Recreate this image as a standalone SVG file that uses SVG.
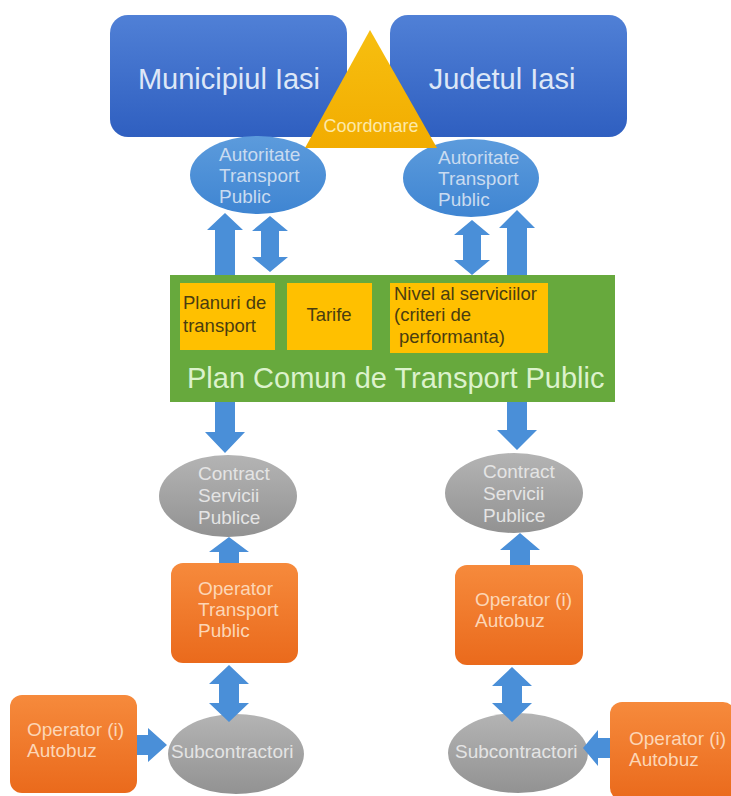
<svg xmlns="http://www.w3.org/2000/svg" width="731" height="796" viewBox="0 0 731 796">
<defs>
<linearGradient id="gBlue" x1="0" y1="0" x2="0" y2="1"><stop offset="0" stop-color="#5080d6"/><stop offset="1" stop-color="#2f5fc0"/></linearGradient>
<linearGradient id="gEll" x1="0" y1="0" x2="0" y2="1"><stop offset="0" stop-color="#5c9bdc"/><stop offset="1" stop-color="#3f85d2"/></linearGradient>
<linearGradient id="gGray" x1="0" y1="0" x2="0" y2="1"><stop offset="0" stop-color="#b4b4b4"/><stop offset="1" stop-color="#929292"/></linearGradient>
<linearGradient id="gOr" x1="0" y1="0" x2="0" y2="1"><stop offset="0" stop-color="#f68a3c"/><stop offset="1" stop-color="#ea6a1c"/></linearGradient>
<linearGradient id="gTri" x1="0" y1="0" x2="0" y2="1"><stop offset="0" stop-color="#f7bf10"/><stop offset="1" stop-color="#f2ac00"/></linearGradient>
</defs>
<style>
text{font-family:"Liberation Sans",Arial,sans-serif}
.big{font-size:29px;fill:#dde7f7}
.ell{font-size:19px;fill:#c9dbf0}
.gry{font-size:19px;fill:#e4e4e4}
.org{font-size:19px;fill:#fcd6b6}
.yel{font-size:18.5px;fill:#4a3d10}
.arr{fill:#4a8fd8}
</style>
<rect width="731" height="796" fill="#ffffff"/>
<g id="municipiul">
<rect x="110" y="15" width="237" height="122" rx="18" fill="url(#gBlue)"/>
<text class="big" x="229" y="89" text-anchor="middle">Municipiul Iasi</text>
</g>
<g id="judetul">
<rect x="390" y="15" width="237" height="122" rx="18" fill="url(#gBlue)"/>
<text class="big" x="502" y="89" text-anchor="middle">Judetul Iasi</text>
</g>
<g id="autoritate-left">
<ellipse cx="258" cy="175" rx="68" ry="39" fill="url(#gEll)"/>
<text class="ell" x="219" y="161">Autoritate</text>
<text class="ell" x="219" y="182">Transport</text>
<text class="ell" x="219" y="203">Public</text>
</g>
<g id="autoritate-right">
<ellipse cx="471" cy="178" rx="68" ry="39" fill="url(#gEll)"/>
<text class="ell" x="438" y="164">Autoritate</text>
<text class="ell" x="438" y="185">Transport</text>
<text class="ell" x="438" y="206">Public</text>
</g>
<g id="coordonare">
<polygon points="370,30 437,148 305,148" fill="url(#gTri)"/>
<text x="371" y="132" text-anchor="middle" style="font-size:18px;fill:#fde9a8">Coordonare</text>
</g>
<g id="plan-comun">
<rect x="170" y="275" width="445" height="127" fill="#67a93d"/>
<text x="187" y="388" style="font-size:29px;fill:#dcf2cc">Plan Comun de Transport Public</text>
</g>
<g id="planuri">
<rect x="180" y="283" width="95" height="67" fill="#ffc000"/>
<text class="yel" x="183" y="309">Planuri de</text>
<text class="yel" x="183" y="332">transport</text>
</g>
<g id="tarife">
<rect x="287" y="283" width="85" height="67" fill="#ffc000"/>
<text class="yel" x="329" y="321" text-anchor="middle">Tarife</text>
</g>
<g id="nivel">
<rect x="390" y="283" width="158" height="70" fill="#ffc000"/>
<text class="yel" x="394" y="300">Nivel al serviciilor</text>
<text class="yel" x="394" y="321">(criteri de</text>
<text class="yel" x="399" y="343">performanta)</text>
</g>
<g id="contract-left">
<ellipse cx="228" cy="496" rx="69" ry="41" fill="url(#gGray)"/>
<text class="gry" x="198" y="480">Contract</text>
<text class="gry" x="198" y="502">Servicii</text>
<text class="gry" x="198" y="524">Publice</text>
</g>
<g id="contract-right">
<ellipse cx="514" cy="493" rx="69" ry="40" fill="url(#gGray)"/>
<text class="gry" x="483" y="478">Contract</text>
<text class="gry" x="483" y="500">Servicii</text>
<text class="gry" x="483" y="522">Publice</text>
</g>
<g id="operator-transport">
<rect x="171" y="563" width="127" height="100" rx="12" fill="url(#gOr)"/>
<text class="org" x="198" y="595">Operator</text>
<text class="org" x="198" y="616">Transport</text>
<text class="org" x="198" y="637">Public</text>
</g>
<g id="operator-right">
<rect x="455" y="565" width="128" height="100" rx="12" fill="url(#gOr)"/>
<text class="org" x="475" y="606">Operator (i)</text>
<text class="org" x="475" y="627">Autobuz</text>
</g>
<g id="subcontractori-left">
<ellipse cx="236" cy="754" rx="68" ry="40" fill="url(#gGray)"/>
<text class="gry" x="171" y="758">Subcontractori</text>
</g>
<g id="subcontractori-right">
<ellipse cx="518" cy="753" rx="70" ry="40" fill="url(#gGray)"/>
<text class="gry" x="455" y="758">Subcontractori</text>
</g>
<g id="operator-bl">
<rect x="10" y="695" width="127" height="98" rx="12" fill="url(#gOr)"/>
<text class="org" x="27" y="736">Operator (i)</text>
<text class="org" x="27" y="757">Autobuz</text>
</g>
<g id="operator-br">
<rect x="610" y="702" width="125" height="98" rx="12" fill="url(#gOr)"/>
<text class="org" x="629" y="745">Operator (i)</text>
<text class="org" x="629" y="766">Autobuz</text>
</g>
<g id="connectors" class="arr">
<polygon points="225,213 243,230 235,230 235,275 215,275 215,230 207,230"/>
<polygon points="270,216 288,231 279,231 279,257 288,257 270,272 252,257 261,257 261,231 252,231"/>
<polygon points="472,220 490,235 481,235 481,260 490,260 472,275 454,260 463,260 463,235 454,235"/>
<polygon points="517,210 535,228 527,228 527,275 507,275 507,228 499,228"/>
<polygon points="225,453 245,432 235,432 235,402 215,402 215,432 205,432"/>
<polygon points="517,450 537,430 527,430 527,402 507,402 507,430 497,430"/>
<polygon points="229,537 249,552 239,552 239,563 219,563 219,552 209,552"/>
<polygon points="520,533 540,550 530,550 530,565 510,565 510,550 500,550"/>
<polygon points="229,665 249,684 239,684 239,703 249,703 229,722 209,703 219,703 219,684 209,684"/>
<polygon points="512,667 532,686 522,686 522,703 532,703 512,722 492,703 502,703 502,686 492,686"/>
<polygon points="167,745 148,728 148,735 137,735 137,755 148,755 148,762"/>
<polygon points="583,748 598,730 598,738 610,738 610,758 598,758 598,766"/>
</g>
</svg>
